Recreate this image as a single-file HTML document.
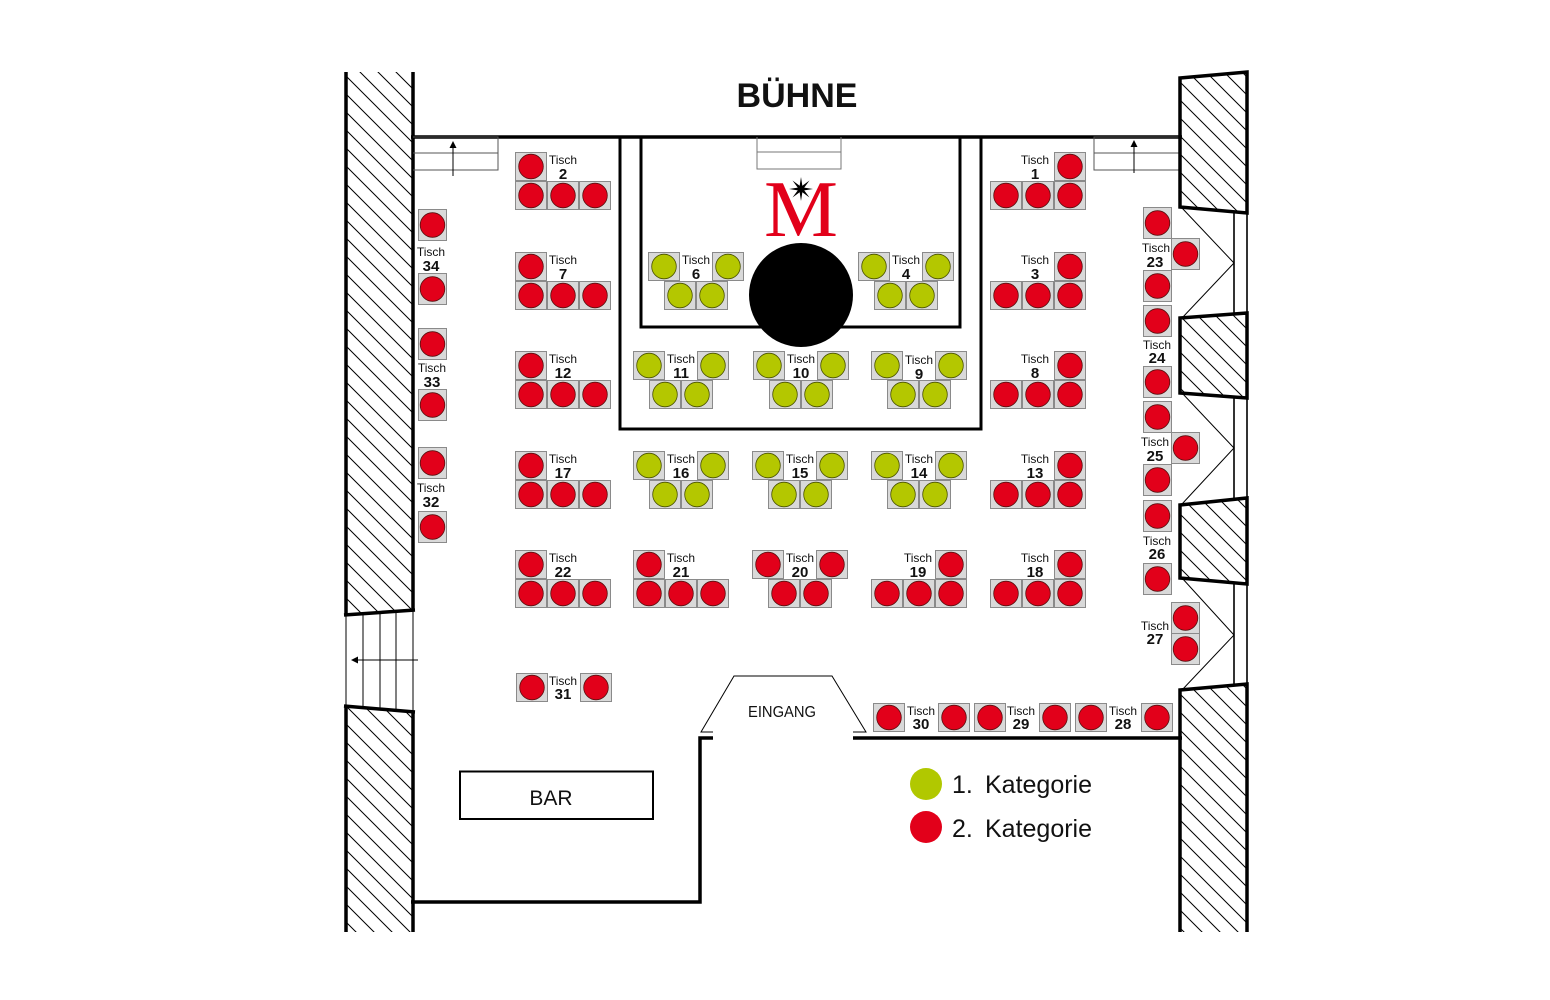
<!DOCTYPE html>
<html><head><meta charset="utf-8"><style>
html,body{margin:0;padding:0;background:#fff;}
svg{display:block;}
.t{font-family:"Liberation Sans",sans-serif;font-size:12px;text-anchor:middle;fill:#111;}
.n{font-family:"Liberation Sans",sans-serif;font-size:15px;font-weight:bold;text-anchor:middle;fill:#111;}
</style></head><body>
<svg width="1550" height="1000" viewBox="0 0 1550 1000" xmlns="http://www.w3.org/2000/svg">
<defs>
<pattern id="h" patternUnits="userSpaceOnUse" width="18" height="18">
<path d="M0,0 L18,18 M-2,16 L2,20 M16,-2 L20,2" stroke="#000" stroke-width="1" fill="none"/>
</pattern>
<g id="r"><rect x="0.5" y="0.5" width="31" height="28" fill="#d9d9d9" stroke="#8a8a8a"/><circle cx="16" cy="14.5" r="12.3" fill="#e2001a" stroke="#5a1010" stroke-width="0.8"/></g>
<g id="g"><rect x="0.5" y="0.5" width="31" height="28" fill="#d9d9d9" stroke="#8a8a8a"/><circle cx="16" cy="14.5" r="12.3" fill="#b4c700" stroke="#4a5200" stroke-width="0.8"/></g>
<g id="rv"><rect x="0.5" y="0.5" width="28" height="31" fill="#d9d9d9" stroke="#8a8a8a"/><circle cx="14.5" cy="16" r="12.3" fill="#e2001a" stroke="#5a1010" stroke-width="0.8"/></g>
</defs>

<!-- BÜHNE -->
<text x="797" y="107" font-family="Liberation Sans, sans-serif" font-size="34" font-weight="bold" text-anchor="middle" fill="#111">BÜHNE</text>

<!-- Left wall -->
<polygon points="346,72 413,72 413,610 346,615" fill="url(#h)"/>
<polygon points="346,706 413,712 413,932 346,932" fill="url(#h)"/>
<g stroke="#000" stroke-width="3.5" fill="none">
<line x1="346" y1="72" x2="346" y2="616"/>
<line x1="413" y1="72" x2="413" y2="611"/>
<line x1="344" y1="615" x2="415" y2="610"/>
<line x1="344" y1="706" x2="415" y2="712"/>
<line x1="346" y1="705" x2="346" y2="932"/>
<line x1="413" y1="711" x2="413" y2="932"/>
</g>
<g stroke="#000" stroke-width="1" fill="none">
<line x1="346" y1="613" x2="346" y2="708"/>
<line x1="363" y1="614" x2="363" y2="708"/>
<line x1="380" y1="613" x2="380" y2="709"/>
<line x1="396" y1="612" x2="396" y2="710"/>
<line x1="413" y1="610" x2="413" y2="712"/>
<line x1="418" y1="660" x2="357" y2="660"/>
</g>
<polygon points="351,660 358,656.5 358,663.5" fill="#000"/>

<!-- Top wall -->
<line x1="411" y1="137" x2="1182" y2="137" stroke="#000" stroke-width="3.5"/>

<!-- Top-left stairs -->
<g stroke="#555" stroke-width="1" fill="none">
<polyline points="413,137 498,137 498,170 413,170"/>
<line x1="413" y1="153" x2="498" y2="153"/>
</g>
<line x1="453" y1="176" x2="453" y2="147" stroke="#000" stroke-width="1"/>
<polygon points="453,141 449.5,148 456.5,148" fill="#000"/>

<!-- Top-right stairs -->
<g stroke="#555" stroke-width="1" fill="none">
<polyline points="1180,137 1094,137 1094,170 1180,170"/>
<line x1="1094" y1="153" x2="1180" y2="153"/>
</g>
<line x1="1134" y1="173" x2="1134" y2="146" stroke="#000" stroke-width="1"/>
<polygon points="1134,140 1130.5,147 1137.5,147" fill="#000"/>

<!-- Stage -->
<g stroke="#000" stroke-width="3" fill="none">
<polyline points="620,137 620,429 981,429 981,137"/>
<polyline points="641,137 641,327 960,327 960,137"/>
</g>
<g stroke="#777" stroke-width="1" fill="none">
<polyline points="757,137 757,169 841,169 841,137"/>
<line x1="757" y1="152" x2="841" y2="152"/>
</g>
<text x="801" y="236" font-family="Liberation Serif, serif" font-size="80" fill="#e2001a" text-anchor="middle" textLength="74" lengthAdjust="spacingAndGlyphs">M</text>
<polygon points="801,177 802.34,185.77 809.49,180.51 804.23,187.66 813,189 804.23,190.34 809.49,197.49 802.34,192.23 801,201 799.66,192.23 792.51,197.49 797.77,190.34 789,189 797.77,187.66 792.51,180.51 799.66,185.77" fill="#000"/>
<circle cx="801" cy="295" r="52" fill="#000"/>

<!-- Right wall -->
<polygon points="1180,78 1247,72 1247,213 1180,207" fill="url(#h)" stroke="#000" stroke-width="3.5"/>
<polygon points="1180,318 1247,313 1247,398 1180,393" fill="url(#h)" stroke="#000" stroke-width="3.5"/>
<polygon points="1180,505 1247,498 1247,584 1180,578" fill="url(#h)" stroke="#000" stroke-width="3.5"/>
<polygon points="1180,690 1247,684 1247,932 1180,932" fill="url(#h)"/>
<polyline points="1180,932 1180,690 1247,684 1247,932" fill="none" stroke="#000" stroke-width="3.5"/>
<g stroke="#000" stroke-width="1.6" fill="none">
<line x1="1234" y1="212" x2="1234" y2="314"/>
<line x1="1247" y1="212" x2="1247" y2="314"/>
<line x1="1234" y1="397" x2="1234" y2="499"/>
<line x1="1247" y1="397" x2="1247" y2="499"/>
<line x1="1234" y1="583" x2="1234" y2="685"/>
<line x1="1247" y1="583" x2="1247" y2="685"/>
</g>
<g stroke="#000" stroke-width="1" fill="none">
<polyline points="1182,208 1234,263 1182,318"/>
<polyline points="1182,393 1234,448 1182,504"/>
<polyline points="1182,578 1234,635 1182,690"/>
</g>

<!-- Bottom walls -->
<polyline points="411,902 700,902 700,738 713,738" fill="none" stroke="#000" stroke-width="3.5"/>
<line x1="853" y1="738" x2="1182" y2="738" stroke="#000" stroke-width="3.5"/>

<!-- Entrance -->
<path d="M713,732 L701,732 L734,676 L832,676 L866,732 L853,732" fill="none" stroke="#000" stroke-width="1"/>
<text x="782" y="717" font-family="Liberation Sans, sans-serif" font-size="16" text-anchor="middle" fill="#111" textLength="68" lengthAdjust="spacingAndGlyphs">EINGANG</text>

<!-- Bar -->
<rect x="460" y="771.5" width="193" height="47.5" fill="none" stroke="#000" stroke-width="2"/>
<text x="551" y="805" font-family="Liberation Sans, sans-serif" font-size="21" text-anchor="middle" fill="#111">BAR</text>

<!-- Legend -->
<circle cx="926" cy="784" r="16" fill="#b1c800"/>
<circle cx="926" cy="827" r="16" fill="#e2001a"/>
<g font-family="Liberation Sans, sans-serif" font-size="25" fill="#111">
<text x="952" y="793">1.</text><text x="985" y="793">Kategorie</text>
<text x="952" y="837">2.</text><text x="985" y="837">Kategorie</text>
</g>

<!-- L-left tables -->
<use href="#r" x="515" y="152"/><use href="#r" x="515" y="181"/><use href="#r" x="547" y="181"/><use href="#r" x="579" y="181"/>
<text class="t" x="563" y="164">Tisch</text><text class="n" x="563" y="179">2</text>
<use href="#r" x="515" y="252"/><use href="#r" x="515" y="281"/><use href="#r" x="547" y="281"/><use href="#r" x="579" y="281"/>
<text class="t" x="563" y="264">Tisch</text><text class="n" x="563" y="279">7</text>
<use href="#r" x="515" y="351"/><use href="#r" x="515" y="380"/><use href="#r" x="547" y="380"/><use href="#r" x="579" y="380"/>
<text class="t" x="563" y="363">Tisch</text><text class="n" x="563" y="378">12</text>
<use href="#r" x="515" y="451"/><use href="#r" x="515" y="480"/><use href="#r" x="547" y="480"/><use href="#r" x="579" y="480"/>
<text class="t" x="563" y="463">Tisch</text><text class="n" x="563" y="478">17</text>
<use href="#r" x="515" y="550"/><use href="#r" x="515" y="579"/><use href="#r" x="547" y="579"/><use href="#r" x="579" y="579"/>
<text class="t" x="563" y="562">Tisch</text><text class="n" x="563" y="577">22</text>
<use href="#r" x="633" y="550"/><use href="#r" x="633" y="579"/><use href="#r" x="665" y="579"/><use href="#r" x="697" y="579"/>
<text class="t" x="681" y="562">Tisch</text><text class="n" x="681" y="577">21</text>

<!-- L-right tables -->
<use href="#r" x="1054" y="152"/><use href="#r" x="990" y="181"/><use href="#r" x="1022" y="181"/><use href="#r" x="1054" y="181"/>
<text class="t" x="1035" y="164">Tisch</text><text class="n" x="1035" y="179">1</text>
<use href="#r" x="1054" y="252"/><use href="#r" x="990" y="281"/><use href="#r" x="1022" y="281"/><use href="#r" x="1054" y="281"/>
<text class="t" x="1035" y="264">Tisch</text><text class="n" x="1035" y="279">3</text>
<use href="#r" x="1054" y="351"/><use href="#r" x="990" y="380"/><use href="#r" x="1022" y="380"/><use href="#r" x="1054" y="380"/>
<text class="t" x="1035" y="363">Tisch</text><text class="n" x="1035" y="378">8</text>
<use href="#r" x="1054" y="451"/><use href="#r" x="990" y="480"/><use href="#r" x="1022" y="480"/><use href="#r" x="1054" y="480"/>
<text class="t" x="1035" y="463">Tisch</text><text class="n" x="1035" y="478">13</text>
<use href="#r" x="1054" y="550"/><use href="#r" x="990" y="579"/><use href="#r" x="1022" y="579"/><use href="#r" x="1054" y="579"/>
<text class="t" x="1035" y="562">Tisch</text><text class="n" x="1035" y="577">18</text>
<use href="#r" x="935" y="550"/><use href="#r" x="871" y="579"/><use href="#r" x="903" y="579"/><use href="#r" x="935" y="579"/>
<text class="t" x="918" y="562">Tisch</text><text class="n" x="918" y="577">19</text>

<!-- T tables -->
<use href="#g" x="648" y="252"/><use href="#g" x="712" y="252"/><use href="#g" x="664" y="281"/><use href="#g" x="696" y="281"/>
<text class="t" x="696" y="264">Tisch</text><text class="n" x="696" y="279">6</text>
<use href="#g" x="858" y="252"/><use href="#g" x="922" y="252"/><use href="#g" x="874" y="281"/><use href="#g" x="906" y="281"/>
<text class="t" x="906" y="264">Tisch</text><text class="n" x="906" y="279">4</text>
<use href="#g" x="633" y="351"/><use href="#g" x="697" y="351"/><use href="#g" x="649" y="380"/><use href="#g" x="681" y="380"/>
<text class="t" x="681" y="363">Tisch</text><text class="n" x="681" y="378">11</text>
<use href="#g" x="753" y="351"/><use href="#g" x="817" y="351"/><use href="#g" x="769" y="380"/><use href="#g" x="801" y="380"/>
<text class="t" x="801" y="363">Tisch</text><text class="n" x="801" y="378">10</text>
<use href="#g" x="871" y="351"/><use href="#g" x="935" y="351"/><use href="#g" x="887" y="380"/><use href="#g" x="919" y="380"/>
<text class="t" x="919" y="364">Tisch</text><text class="n" x="919" y="379">9</text>
<use href="#g" x="633" y="451"/><use href="#g" x="697" y="451"/><use href="#g" x="649" y="480"/><use href="#g" x="681" y="480"/>
<text class="t" x="681" y="463">Tisch</text><text class="n" x="681" y="478">16</text>
<use href="#g" x="752" y="451"/><use href="#g" x="816" y="451"/><use href="#g" x="768" y="480"/><use href="#g" x="800" y="480"/>
<text class="t" x="800" y="463">Tisch</text><text class="n" x="800" y="478">15</text>
<use href="#g" x="871" y="451"/><use href="#g" x="935" y="451"/><use href="#g" x="887" y="480"/><use href="#g" x="919" y="480"/>
<text class="t" x="919" y="463">Tisch</text><text class="n" x="919" y="478">14</text>
<use href="#r" x="752" y="550"/><use href="#r" x="816" y="550"/><use href="#r" x="768" y="579"/><use href="#r" x="800" y="579"/>
<text class="t" x="800" y="562">Tisch</text><text class="n" x="800" y="577">20</text>

<!-- Left single tables -->
<use href="#rv" x="418" y="209"/><use href="#rv" x="418" y="273"/>
<text class="t" x="431" y="256">Tisch</text><text class="n" x="431" y="271">34</text>
<use href="#rv" x="418" y="328"/><use href="#rv" x="418" y="389"/>
<text class="t" x="432" y="372">Tisch</text><text class="n" x="432" y="387">33</text>
<use href="#rv" x="418" y="447"/><use href="#rv" x="418" y="511"/>
<text class="t" x="431" y="492">Tisch</text><text class="n" x="431" y="507">32</text>

<!-- Right single tables -->
<use href="#rv" x="1143" y="207"/><use href="#rv" x="1171" y="238"/><use href="#rv" x="1143" y="270"/>
<text class="t" x="1156" y="252">Tisch</text><text class="n" x="1155" y="267">23</text>
<use href="#rv" x="1143" y="305"/><use href="#rv" x="1143" y="366"/>
<text class="t" x="1157" y="349">Tisch</text><text class="n" x="1157" y="363">24</text>
<use href="#rv" x="1143" y="401"/><use href="#rv" x="1171" y="432"/><use href="#rv" x="1143" y="464"/>
<text class="t" x="1155" y="446">Tisch</text><text class="n" x="1155" y="461">25</text>
<use href="#rv" x="1143" y="500"/><use href="#rv" x="1143" y="563"/>
<text class="t" x="1157" y="545">Tisch</text><text class="n" x="1157" y="559">26</text>
<use href="#rv" x="1171" y="602"/><use href="#rv" x="1171" y="633"/>
<text class="t" x="1155" y="630">Tisch</text><text class="n" x="1155" y="644">27</text>

<!-- Bottom tables -->
<use href="#r" x="873" y="703"/><use href="#r" x="938" y="703"/>
<text class="t" x="921" y="715">Tisch</text><text class="n" x="921" y="729">30</text>
<use href="#r" x="974" y="703"/><use href="#r" x="1039" y="703"/>
<text class="t" x="1021" y="715">Tisch</text><text class="n" x="1021" y="729">29</text>
<use href="#r" x="1075" y="703"/><use href="#r" x="1141" y="703"/>
<text class="t" x="1123" y="715">Tisch</text><text class="n" x="1123" y="729">28</text>
<use href="#r" x="516" y="673"/><use href="#r" x="580" y="673"/>
<text class="t" x="563" y="685">Tisch</text><text class="n" x="563" y="699">31</text>
</svg>
</body></html>
